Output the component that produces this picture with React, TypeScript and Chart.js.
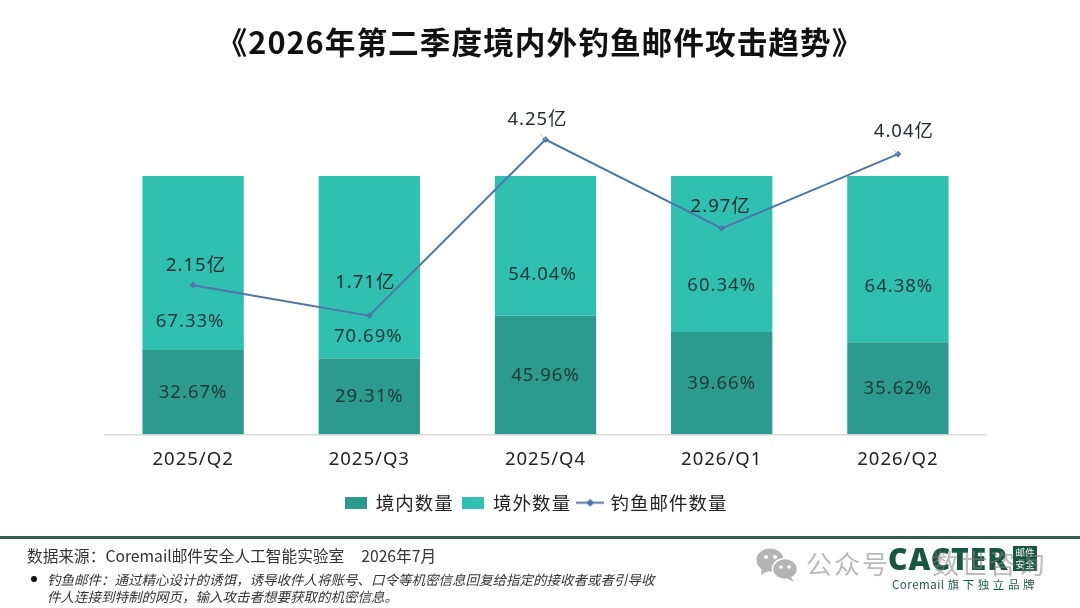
import React, { useEffect, useRef } from "react";
import { Chart, registerables } from "chart.js";

Chart.register(...registerables);

const categories = ["2025/Q2", "2025/Q3", "2025/Q4", "2026/Q1", "2026/Q2"];
const domesticShare = [32.67, 29.31, 45.96, 39.66, 35.62];
const foreignShare = [67.33, 70.69, 54.04, 60.34, 64.38];
const phishingCount = [2.15, 1.71, 4.25, 2.97, 4.04];
const noteLines = [
  "钓鱼邮件：通过精心设计的诱饵，诱导收件人将账号、口令等机密信息回复给指定的接收者或者引导收",
  "件人连接到特制的网页，输入攻击者想要获取的机密信息。",
];

// hand-placed label nudges, in pixels, from each mark's anchor
const foreignLabelNudge = [[-3, 58.5], [-1, 69], [-3, 28.5], [0, 32], [1, 28]];
const countLabelNudge = [[3, -19], [-4, -33], [-8, -20], [-1, -22], [6, -22]];
const leaderPoints = [2, 4];

const DARK = "#2c9a8d";
const LIGHT = "#30c0b1";
const LINE = "#4f76a8";
const FONT = '"Noto Sans CJK SC", "Noto Sans", sans-serif';
const LATIN = '"Noto Sans", "Noto Sans CJK SC", sans-serif';
const WATERMARK = "rgba(130,130,130,0.55)";

function swatch(color: string) {
  const c = document.createElement("canvas");
  c.width = 22;
  c.height = 12;
  const x = c.getContext("2d")!;
  x.fillStyle = color;
  x.fillRect(0, 0, 22, 12);
  return c;
}

function lineKey() {
  const c = document.createElement("canvas");
  c.width = 28;
  c.height = 9;
  const x = c.getContext("2d")!;
  x.strokeStyle = LINE;
  x.lineWidth = 2;
  x.beginPath();
  x.moveTo(0, 4.5);
  x.lineTo(28, 4.5);
  x.stroke();
  x.fillStyle = LINE;
  x.beginPath();
  x.moveTo(14, 0.5);
  x.lineTo(18, 4.5);
  x.lineTo(14, 8.5);
  x.lineTo(10, 4.5);
  x.closePath();
  x.fill();
  return c;
}

const textSpacing = {
  id: "textSpacing",
  beforeUpdate(chart: any) {
    chart.ctx.letterSpacing = "1px";
  },
  beforeDraw(chart: any) {
    chart.ctx.letterSpacing = "1px";
  },
};

// the title and legend sit on the page centre rather than the plot centre
const recentre = {
  id: "recentre",
  afterLayout(chart: any) {
    chart.legend.left -= 9.5;
    chart.legend.right -= 9.5;
    chart.titleBlock.left -= 5.5;
    chart.titleBlock.right -= 5.5;
  },
};

const valueLabels = {
  id: "valueLabels",
  afterDatasetsDraw(chart: any) {
    const ctx = chart.ctx;
    ctx.save();
    ctx.textAlign = "center";
    ctx.textBaseline = "middle";
    ctx.font = `18.5px ${LATIN}`;
    ctx.fillStyle = "#1f3a36";
    chart.getDatasetMeta(0).data.forEach((bar: any, i: number) => {
      ctx.fillText(`${domesticShare[i].toFixed(2)}%`, bar.x, (bar.y + bar.base) / 2 + 0.5);
    });
    chart.getDatasetMeta(1).data.forEach((bar: any, i: number) => {
      const [dx, dy] = foreignLabelNudge[i];
      ctx.fillText(`${foreignShare[i].toFixed(2)}%`, bar.x + dx, (bar.y + bar.base) / 2 + dy);
    });
    const line = chart.getDatasetMeta(2).data;
    ctx.strokeStyle = "#c9c9c0";
    ctx.lineWidth = 1;
    leaderPoints.forEach((i) => {
      const p = line[i];
      ctx.beginPath();
      ctx.moveTo(p.x, p.y);
      ctx.lineTo(p.x - 5, p.y - 5);
      ctx.stroke();
    });
    ctx.fillStyle = "#1c2b2a";
    line.forEach((p: any, i: number) => {
      const [dx, dy] = countLabelNudge[i];
      ctx.fillText(`${phishingCount[i].toFixed(2)}亿`, p.x + dx, p.y + dy);
    });
    ctx.restore();
  },
};

export default function App() {
  const ref = useRef<HTMLCanvasElement>(null);
  useEffect(() => {
    const chart = new Chart(ref.current!, {
      type: "bar",
      data: {
        labels: categories,
        datasets: [
          { type: "bar", label: "境内数量", data: domesticShare, backgroundColor: DARK, stack: "s", yAxisID: "y", order: 2 },
          { type: "bar", label: "境外数量", data: foreignShare, backgroundColor: LIGHT, stack: "s", yAxisID: "y", order: 2 },
          {
            type: "line",
            label: "钓鱼邮件数量",
            data: phishingCount,
            borderColor: LINE,
            backgroundColor: LINE,
            borderWidth: 2,
            pointStyle: "rectRot",
            pointRadius: 2,
            tension: 0,
            yAxisID: "y1",
            order: 1,
          },
        ] as any,
      },
      options: {
        animation: false,
        responsive: false,
        devicePixelRatio: 1,
        categoryPercentage: 0.575,
        barPercentage: 1,
        layout: { padding: { left: 105, right: 94, top: 0, bottom: 86 } },
        plugins: {
          tooltip: { enabled: false },
          title: {
            display: true,
            text: "《2026年第二季度境内外钓鱼邮件攻击趋势》",
            color: "#111111",
            font: { family: FONT, size: 30.7, weight: "bold" },
            padding: { top: 24, bottom: 37.8 },
          },
          legend: {
            position: "bottom",
            labels: {
              usePointStyle: true,
              pointStyleWidth: 22,
              boxHeight: 18,
              padding: 8,
              color: "#222222",
              font: { family: FONT, size: 18.5 },
              generateLabels: (c: any) =>
                c.data.datasets.map((d: any, i: number) => ({
                  text: d.label,
                  fontColor: "#222222",
                  datasetIndex: i,
                  pointStyle: i === 0 ? swatch(DARK) : i === 1 ? swatch(LIGHT) : lineKey(),
                  lineWidth: 0,
                  strokeStyle: "transparent",
                  fillStyle: "transparent",
                })),
            },
          },
        },
        scales: {
          x: {
            stacked: true,
            grid: { display: false, drawTicks: false },
            border: { color: "#d9d9d9", width: 1.5 },
            ticks: { color: "#222222", padding: 14.5, font: { family: LATIN, size: 18.5 } },
          },
          y: { stacked: true, display: false, min: 0, max: 130 },
          y1: { display: false, min: 0, max: 4.84 },
        },
      } as any,
      plugins: [textSpacing, recentre, valueLabels],
    });
    return () => chart.destroy();
  }, []);

  return (
    <div style={{ position: "fixed", left: 0, top: 0, width: 1080, height: 608, background: "#fff", overflow: "hidden", fontFamily: FONT }}>
      <canvas ref={ref} width={1080} height={608} style={{ position: "absolute", left: 0, top: 0, display: "block" }} />
      <div style={{ position: "absolute", left: 0, top: 536, width: 1080, height: 2.5, background: "#2f5f52" }} />
      <div style={{ position: "absolute", left: 27, top: 546, fontSize: 15.7, lineHeight: "20px", color: "#333", whiteSpace: "pre" }}>
        数据来源：Coremail邮件安全人工智能实验室<span style={{ marginLeft: 17 }}>2026年7月</span>
      </div>
      <div style={{ position: "absolute", left: 31, top: 576, width: 6, height: 6, borderRadius: 3, background: "#111" }} />
      {noteLines.map((t, i) => (
        <div key={i} style={{ position: "absolute", left: 47, top: 571 + i * 17, fontSize: 13.5, lineHeight: "17px", fontStyle: "italic", color: "#333", whiteSpace: "pre" }}>
          {t}
        </div>
      ))}
      <div style={{ position: "absolute", left: 888, top: 542, fontFamily: LATIN, fontWeight: 900, fontSize: 30, lineHeight: "34px", letterSpacing: 1, color: "#17563f" }}>CACTER</div>
      <div style={{ position: "absolute", left: 1013, top: 546, width: 24, height: 25, background: "#17563f", color: "#fff", fontSize: 9.5, lineHeight: "12px", textAlign: "center" }}>邮件<br />安全</div>
      <div style={{ position: "absolute", left: 892, top: 577, fontSize: 11.5, lineHeight: "14px", color: "#1f5a45", letterSpacing: 0.5, whiteSpace: "pre" }}>Coremail 旗 下 独 立 品 牌</div>
      <svg style={{ position: "absolute", left: 756, top: 547 }} width={44} height={36} viewBox="0 0 44 36">
        <ellipse cx="14" cy="13" rx="13.5" ry="11.5" fill="#b4b4b4" />
        <path d="M6 20 L5 28 L14 23 Z" fill="#b4b4b4" />
        <ellipse cx="29" cy="22" rx="12.5" ry="10.5" stroke="#fff" strokeWidth="1.5" fill="#b4b4b4" />
        <path d="M35 30 L38 35 L30 31 Z" fill="#b4b4b4" />
        <circle cx="10" cy="10" r="2" fill="#fff" />
        <circle cx="19" cy="10" r="2" fill="#fff" />
        <circle cx="25" cy="20" r="1.7" fill="#fff" />
        <circle cx="33" cy="20" r="1.7" fill="#fff" />
      </svg>
      <div style={{ position: "absolute", left: 806, top: 547, fontSize: 26, lineHeight: "32px", color: WATERMARK, letterSpacing: 2, whiteSpace: "pre" }}>公众号</div>
      <div style={{ position: "absolute", left: 932, top: 547, fontSize: 27, lineHeight: "32px", color: WATERMARK, letterSpacing: 1.5, whiteSpace: "pre" }}>数世咨询</div>
    </div>
  );
}
